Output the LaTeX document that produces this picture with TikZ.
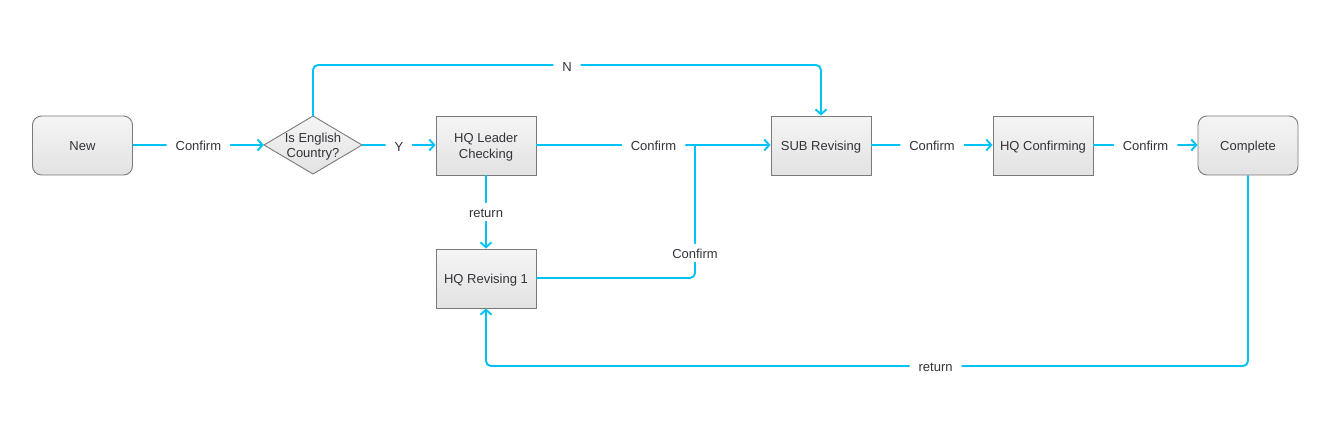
\documentclass[tikz,border=0pt]{standalone}
\usepackage{fontspec}
\setmainfont{Liberation Sans}
\usetikzlibrary{arrows.meta}
\definecolor{flowc}{RGB}{0,194,245}
\definecolor{boxb}{RGB}{122,122,122}
\definecolor{boxt}{RGB}{245,245,245}
\definecolor{boxbot}{RGB}{226,226,226}
\definecolor{txt}{RGB}{51,51,58}
\newcommand{\boxtext}[1]{\raisebox{-1.8pt}[\height][\depth]{\begin{tabular}{@{}c@{}}#1\end{tabular}}}
\tikzset{
  box/.style={draw=boxb, line width=0.9pt, top color=boxt, bottom color=boxbot,
    minimum width=100pt, minimum height=59pt, inner sep=2pt,
    text=txt, font=\fontsize{13}{15.5}\selectfont},
  roundbox/.style={box, rounded corners=9pt},
  flow/.style={draw=flowc, line width=1.9pt, rounded corners=5pt,
    -{Straight Barb[length=5pt,width=11pt,line width=1.9pt]}},
  flowplain/.style={draw=flowc, line width=1.9pt, rounded corners=5pt},
  lbl/.style={fill=white, inner xsep=9pt, inner ysep=3pt, text=txt,
    font=\fontsize{13}{15}\selectfont,
    execute at begin node={\rule{0pt}{12pt}}},
}
\begin{document}
\begin{tikzpicture}[x=1pt,y=-1pt]
\path[fill=white] (0,0) rectangle (1331,437);
\useasboundingbox (0,0) rectangle (1331,437);

% diamond shape
\shadedraw[draw=boxb, line width=0.9pt, top color=boxt, bottom color=boxbot]
  (264,145) -- (313,116) -- (362,145) -- (313,174) -- cycle;

\node[roundbox] (new) at (82.5,145.5) {\boxtext{New}};
\node[minimum width=98pt, minimum height=58pt, inner sep=0pt,
      text=txt, font=\fontsize{13}{15}\selectfont] (d) at (313,145) {\boxtext{Is English\\Country?}};
\node[box] (hql) at (486,145.5) {\boxtext{HQ Leader\\Checking}};
\node[box] (sub) at (821,145.5) {\boxtext{SUB Revising}};
\node[box] (hqc) at (1043,145.5) {\boxtext{HQ Confirming}};
\node[roundbox] (comp) at (1248,145.5) {\boxtext{Complete}};
\node[box] (hqr) at (486,278.5) {\boxtext{HQ Revising 1}};

\coordinate (j) at (695,145);
\coordinate (r) at (486,366);

\draw[flow] (new.east |- 0,145) -- node[lbl]{Confirm} (d.west |- 0,145);
\draw[flow] (d.east |- 0,145) -- node[lbl]{Y} (hql.west |- 0,145);
\draw[flow] (313,116) -- ++(0,-51) -| node[lbl,pos=0.25]{N} (sub.north);
\draw[flow] (hql.east |- 0,145) -- node[lbl]{Confirm} (sub.west |- 0,145);
\draw[flow] (hql.south) -- node[lbl]{return} (hqr.north);
\draw[flowplain] (hqr.east |- 0,278) -| node[lbl,pos=0.594]{Confirm} (j);
\draw[flow] (sub.east |- 0,145) -- node[lbl]{Confirm} (hqc.west |- 0,145);
\draw[flow] (hqc.east |- 0,145) -- node[lbl]{Confirm} (comp.west |- 0,145);
\draw[flow] (comp.south) |- node[lbl,pos=0.705]{return} (r) -- (hqr.south);
\end{tikzpicture}
\end{document}
